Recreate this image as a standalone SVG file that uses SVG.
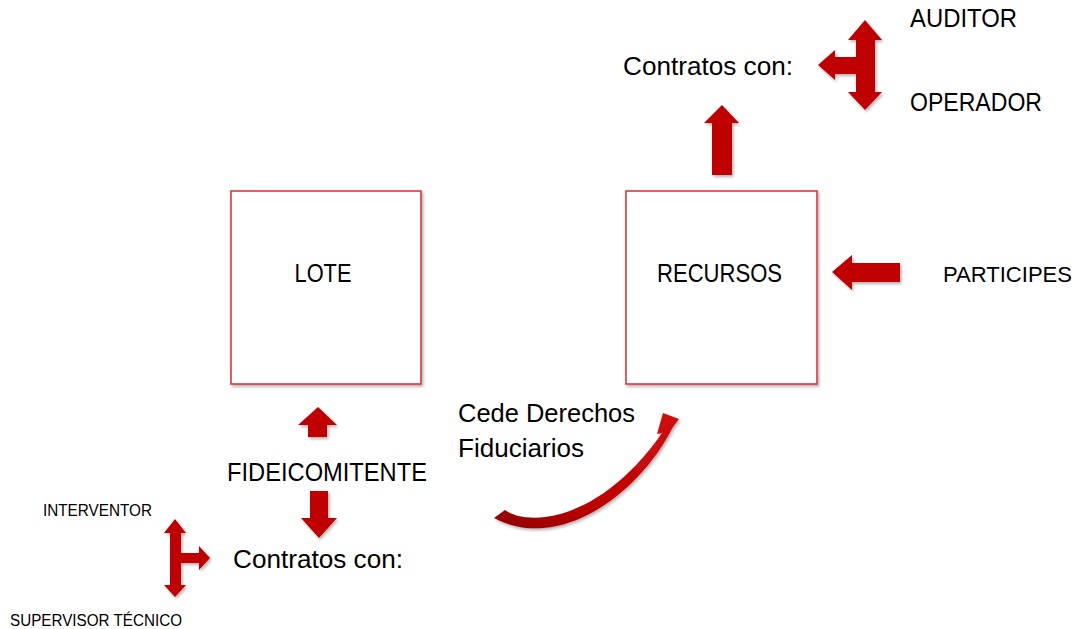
<svg xmlns="http://www.w3.org/2000/svg" width="1079" height="629" viewBox="0 0 1079 629">
<style>
.t{font-family:"Liberation Sans","Open Sans",sans-serif;fill:#000;}
.big{font-size:26px;}
.sm{font-size:16px;}
.box{fill:#fff;stroke:#d93a3c;stroke-width:1.6;}
.arr{fill:#c00000;}
</style>
<defs>
<filter id="sh" x="-20%" y="-20%" width="140%" height="140%">
<feDropShadow dx="1.5" dy="2" stdDeviation="1.5" flood-color="#000" flood-opacity="0.3"/>
</filter>
<linearGradient id="cg" x1="0" y1="1" x2="1" y2="0">
<stop offset="0" stop-color="#8f0000"/>
<stop offset="0.4" stop-color="#c00000"/>
<stop offset="1" stop-color="#d01010"/>
</linearGradient>
</defs>
<rect width="1079" height="629" fill="#fff"/>

<g id="lote">
<rect class="box" x="231" y="191" width="190" height="193" filter="url(#sh)"/>
<text class="t big" x="323" y="282" text-anchor="middle" textLength="57" lengthAdjust="spacingAndGlyphs">LOTE</text>
</g>

<g id="recursos">
<rect class="box" x="626" y="191" width="191" height="193" filter="url(#sh)"/>
<text class="t big" x="657" y="282" textLength="125" lengthAdjust="spacingAndGlyphs">RECURSOS</text>
</g>

<g id="participes">
<text class="t" style="font-size:22px" x="943" y="282" textLength="129" lengthAdjust="spacingAndGlyphs">PARTICIPES</text>
</g>

<g id="contratos-top">
<text class="t big" x="623" y="75" textLength="170" lengthAdjust="spacingAndGlyphs">Contratos con:</text>
</g>

<g id="auditor">
<text class="t big" x="910" y="27" textLength="107" lengthAdjust="spacingAndGlyphs">AUDITOR</text>
</g>

<g id="operador">
<text class="t big" x="910" y="111" textLength="132" lengthAdjust="spacingAndGlyphs">OPERADOR</text>
</g>

<g id="cede">
<text class="t big" x="458" y="422" textLength="177" lengthAdjust="spacingAndGlyphs">Cede Derechos</text>
<text class="t big" x="458" y="457" textLength="126" lengthAdjust="spacingAndGlyphs">Fiduciarios</text>
</g>

<g id="fideicomitente">
<text class="t big" x="227" y="481" textLength="200" lengthAdjust="spacingAndGlyphs">FIDEICOMITENTE</text>
</g>

<g id="contratos-bottom">
<text class="t big" x="233" y="568" textLength="170" lengthAdjust="spacingAndGlyphs">Contratos con:</text>
</g>

<g id="interventor">
<text class="t sm" x="43" y="516" textLength="109" lengthAdjust="spacingAndGlyphs">INTERVENTOR</text>
</g>

<g id="supervisor">
<text class="t sm" x="10" y="626" textLength="172" lengthAdjust="spacingAndGlyphs">SUPERVISOR TÉCNICO</text>
</g>

<g id="connectors" filter="url(#sh)">
<polygon class="arr" points="865,20 882,40 875,40 875,92 882,92 865,110 848,92 856,92 856,74 835,74 835,80 818,65 835,50 835,57 856,57 856,40 848,40"/>
<polygon class="arr" points="722,105 739,123 732,123 732,175 712,175 712,123 704,123"/>
<polygon class="arr" points="832,272 852,255 852,263 900,263 900,282 852,282 852,290"/>
<polygon class="arr" points="318,407 337,425 327,425 327,437 308,437 308,425 298,425"/>
<polygon class="arr" points="310,491 328,491 328,518 337,518 319,538 301,518 310,518"/>
<polygon class="arr" points="175,519 186,533 181,533 181,553 199,553 199,546 210,558 199,570 199,563 181,563 181,585 186,585 175,597 164,585 170,585 170,533 164,533"/>
<path fill="url(#cg)" d="M 494 518 L 505 510 C 528 527, 600 522, 662 433 L 657 434 L 663 413 L 679 419 L 673 427 C 640 493, 560 553, 494 518 Z"/>
</g>
</svg>
